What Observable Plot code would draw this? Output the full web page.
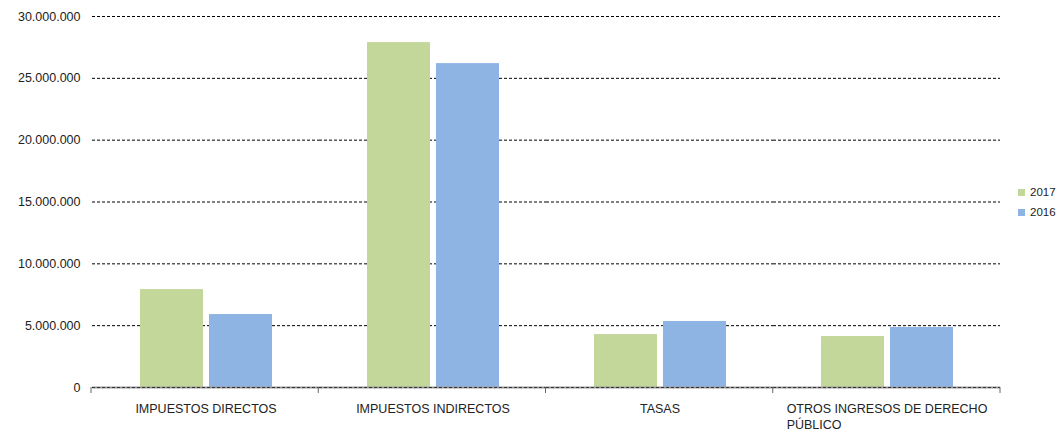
<!DOCTYPE html>
<html>
<head>
<meta charset="utf-8">
<script src="https://cdn.jsdelivr.net/npm/d3@7"></script>
<script src="https://cdn.jsdelivr.net/npm/@observablehq/plot@0.6"></script>
<style>
  html, body { margin: 0; padding: 0; background: #fff; }
  #wrap { position: relative; width: 1059px; height: 432px; font-family: "Liberation Sans", Arial, sans-serif; }
  .legend { position: absolute; left: 1018px; font-size: 11.5px; color: #222; line-height: 20px; }
  .legend div { display: flex; align-items: center; height: 20px; }
  .legend span.sw { display: inline-block; width: 7px; height: 7px; margin-right: 5px; }
</style>
</head>
<body>
<div id="wrap"></div>
<script>
const categories = ["IMPUESTOS DIRECTOS", "IMPUESTOS INDIRECTOS", "TASAS", "OTROS INGRESOS DE DERECHO PÚBLICO"];
const years = ["2017", "2016"];
const values2017 = [7920000, 27890000, 4280000, 4120000];
const values2016 = [5900000, 26190000, 5340000, 4850000];
const yTicks = [0, 5000000, 10000000, 15000000, 20000000, 25000000, 30000000];
const colors = ["#C4D79B", "#8EB4E3"];

const data = [];
categories.forEach((c, i) => {
  data.push({cat: c, year: "2017", value: values2017[i]});
  data.push({cat: c, year: "2016", value: values2016[i]});
});

const fmt = d3.formatLocale({decimal: ",", thousands: ".", grouping: [3], currency: ["", ""]}).format(",d");

const chart = Plot.plot({
  width: 1059,
  height: 432,
  marginTop: 16,
  marginBottom: 45,
  marginLeft: 91,
  marginRight: 59,
  style: {fontFamily: "'Liberation Sans', Arial, sans-serif", fontSize: "12.5px", color: "#222", background: "#fff"},
  fx: {domain: categories, padding: 0, label: null},
  x: {domain: years, paddingInner: 6 / 69, paddingOuter: 0.67, axis: null},
  y: {domain: [0, 30000000], label: null},
  color: {domain: years, range: colors},
  marks: [
    Plot.gridY(yTicks, {stroke: "#000", strokeOpacity: 1, strokeDasharray: "3,2", strokeWidth: 1}),
    Plot.axisY(yTicks, {tickSize: 0, tickPadding: 12, tickFormat: fmt, fontSize: 12.5, label: null}),
    Plot.axisFx({anchor: "bottom", tickSize: 0, tickPadding: 14, fontSize: 12.5, lineWidth: 18, lineHeight: 1.3, label: null}),
    Plot.barY(data, {fx: "cat", x: "year", y: "value", fill: "year"}),
    Plot.ruleY([0], {stroke: "#999", strokeWidth: 2}),
    Plot.ruleY([0], {stroke: "#333", strokeWidth: 1, strokeDasharray: "3,2"})
  ]
});

const wrap = document.getElementById("wrap");
wrap.appendChild(chart);

// boundary ticks along the category axis
const fxs = chart.scale("fx");
const band = d3.scaleBand().domain(fxs.domain).range(fxs.range).padding(0);
const y0 = chart.scale("y").apply(0);
const svg = d3.select(chart);
const g = svg.append("g");
const bounds = categories.map(c => band(c)).concat([band(categories[categories.length - 1]) + band.step()]);
bounds.forEach(x => {
  g.append("line").attr("x1", x).attr("x2", x).attr("y1", y0).attr("y2", y0 + 6)
    .attr("stroke", "#666").attr("stroke-width", 1);
});

// left-align multi-line category labels as a centred block
svg.selectAll("text").each(function() {
  const tsp = this.querySelectorAll("tspan");
  if (tsp.length > 1) {
    const w = tsp[0].getComputedTextLength();
    this.setAttribute("text-anchor", "start");
    tsp.forEach(t => t.setAttribute("x", -w / 2));
  }
});

// legend
const legend = document.createElement("div");
legend.className = "legend";
legend.style.top = "182px";
years.forEach((yr, i) => {
  const row = document.createElement("div");
  row.innerHTML = `<span class="sw" style="background:${colors[i]}"></span>${yr}`;
  legend.appendChild(row);
});
wrap.appendChild(legend);
</script>
</body>
</html>
